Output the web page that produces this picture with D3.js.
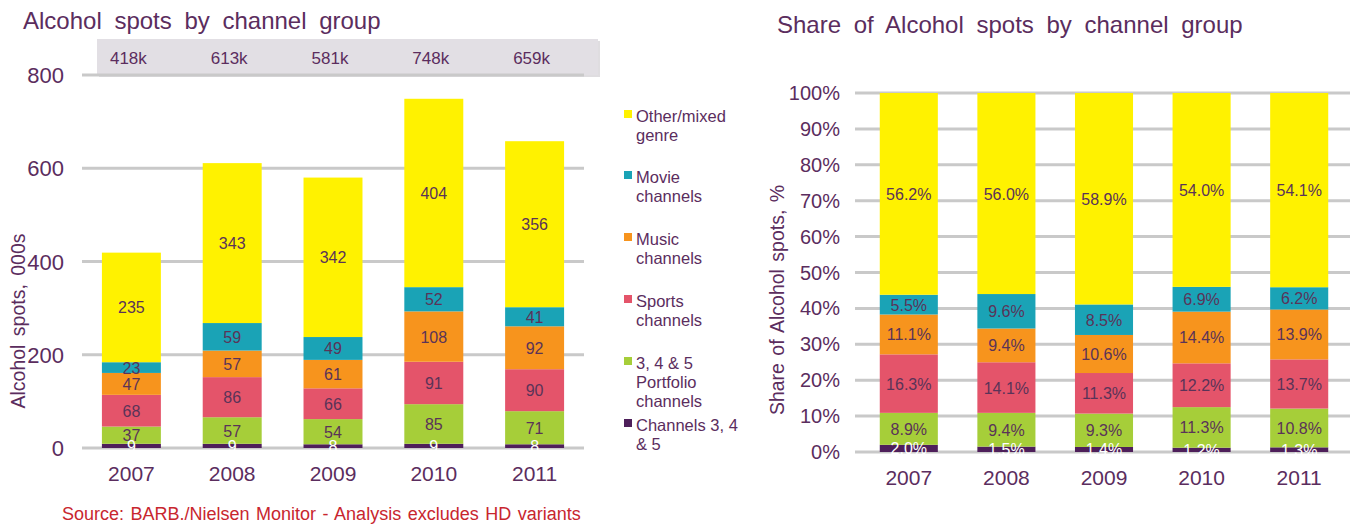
<!DOCTYPE html>
<html><head><meta charset="utf-8">
<script src="https://cdn.jsdelivr.net/npm/d3@7"></script>
<style>body{margin:0;background:#fff}svg{display:block;font-family:"Liberation Sans",Arial,sans-serif}</style>
</head><body><svg id="c" width="1355" height="525"></svg>
<script>
const years = ["2007","2008","2009","2010","2011"];
const seriesNames = ["Channels 3, 4 & 5","3, 4 & 5 Portfolio channels","Sports channels","Music channels","Movie channels","Other/mixed genre"];
const seriesColors = ["#4E1F5A","#A6CE39","#E4546A","#F7941D","#1AA3B6","#FFF200"];
const spotsCh345 = [9,9,8,9,8];
const spotsPortfolio = [37,57,54,85,71];
const spotsSports = [68,86,66,91,90];
const spotsMusic = [47,57,61,108,92];
const spotsMovie = [23,59,49,52,41];
const spotsOther = [235,343,342,404,356];
const totalLabels = ["418k","613k","581k","748k","659k"];
const shareCh345 = [2.0,1.5,1.4,1.2,1.3];
const sharePortfolio = [8.9,9.4,9.3,11.3,10.8];
const shareSports = [16.3,14.1,11.3,12.2,13.7];
const shareMusic = [11.1,9.4,10.6,14.4,13.9];
const shareMovie = [5.5,9.6,8.5,6.9,6.2];
const shareOther = [56.2,56.0,58.9,54.0,54.1];
const leftTicks = [0,200,400,600,800];
const rightTicks = [0,10,20,30,40,50,60,70,80,90,100];
const legendLines = [["Other/mixed","genre"],["Movie","channels"],["Music","channels"],["Sports","channels"],["3, 4 & 5","Portfolio","channels"],["Channels 3, 4","& 5"]];
const legendColors = ["#FFF200","#1AA3B6","#F7941D","#E4546A","#A6CE39","#4E1F5A"];

const txt = "#5B2D5E", grid = "#C9C9C9";
const svg = d3.select("#c");

function buildRows(arrs){
  return years.map((y,i)=>{const r={year:y}; arrs.forEach((a,k)=>r["s"+k]=a[i]); return r;});
}
const keys = seriesNames.map((d,k)=>"s"+k);

// ---------- LEFT CHART ----------
const spotsRows = buildRows([spotsCh345,spotsPortfolio,spotsSports,spotsMusic,spotsMovie,spotsOther]);
const xL = d3.scaleBand().domain(years).range([81,585]).paddingInner(0.415).paddingOuter(0.2075);
const yL = d3.scaleLinear().domain([0,800]).range([448,75]);
const L = svg.append("g");
L.append("text").attr("x",23).attr("y",29).attr("font-size",24).attr("fill",txt).attr("word-spacing",6).text("Alcohol spots by channel group");
// header box
L.append("rect").attr("x",99).attr("y",41).attr("width",501).attr("height",36).attr("fill","#C9C6CC").attr("opacity",0.6);
L.append("rect").attr("x",97).attr("y",39).attr("width",501).attr("height",36).attr("fill","#E2DFE4");
L.selectAll(".tl").data(totalLabels).join("text").attr("x",(d,i)=>xL(years[i])+xL.bandwidth()/2-3).attr("y",64)
  .attr("text-anchor","middle").attr("font-size",17).attr("fill",txt).text(d=>d);
// grid
L.selectAll(".g").data(leftTicks).join("line").attr("x1",82).attr("x2",584).attr("y1",d=>yL(d)).attr("y2",d=>yL(d)).attr("stroke",grid).attr("stroke-width",3);
L.selectAll(".yt").data(leftTicks).join("text").attr("x",64).attr("y",d=>yL(d)+8).attr("text-anchor","end").attr("font-size",22).attr("fill",txt).text(d=>d);
const stL = d3.stack().keys(keys)(spotsRows);
stL.forEach((s,k)=>{
  const g = L.append("g");
  g.selectAll("rect").data(s).join("rect").attr("x",d=>xL(d.data.year)).attr("width",xL.bandwidth())
    .attr("y",d=>yL(d[1])).attr("height",d=>yL(d[0])-yL(d[1])).attr("fill",seriesColors[k]);
});
stL.forEach((s,k)=>{
  L.append("g").selectAll("text").data(s).join("text").attr("x",d=>xL(d.data.year)+xL.bandwidth()/2)
    .attr("y",d=>yL((d[0]+d[1])/2)+6).attr("text-anchor","middle").attr("font-size",16)
    .attr("fill",k===0?"#FFFFFF":"#5A3358").text(d=>d[1]-d[0]);
});
L.selectAll(".xt").data(years).join("text").attr("x",d=>xL(d)+xL.bandwidth()/2).attr("y",481).attr("text-anchor","middle").attr("font-size",21).attr("fill",txt).text(d=>d);
L.append("text").attr("transform","translate(25,321) rotate(-90)").attr("text-anchor","middle").attr("font-size",19.5).attr("fill",txt).attr("word-spacing",3).text("Alcohol spots, 000s");
L.append("text").attr("x",62).attr("y",520).attr("font-size",18).attr("fill","#C8262E").attr("word-spacing",1.5).text("Source: BARB./Nielsen Monitor - Analysis excludes HD variants");

// legend
const lg = svg.append("g");
const lgY = [122,183,245,307,369,431];
legendLines.forEach((lines,i)=>{
  lg.append("rect").attr("x",624).attr("y",lgY[i]-12).attr("width",8).attr("height",8).attr("fill",legendColors[i]);
  lines.forEach((t,j)=>lg.append("text").attr("x",636).attr("y",lgY[i]+j*19).attr("font-size",16.5).attr("fill",txt).text(t));
});

// ---------- RIGHT CHART ----------
const shareRows = buildRows([shareCh345,sharePortfolio,shareSports,shareMusic,shareMovie,shareOther]);
const xR = d3.scaleBand().domain(years).range([860,1348]).paddingInner(0.405).paddingOuter(0.2025);
const yR = d3.scaleLinear().domain([0,100]).range([452,93]);
const R = svg.append("g");
R.append("text").attr("x",777).attr("y",33).attr("font-size",24).attr("fill",txt).attr("word-spacing",6).text("Share of Alcohol spots by channel group");
R.selectAll(".g").data(rightTicks).join("line").attr("x1",855).attr("x2",1350).attr("y1",d=>yR(d)).attr("y2",d=>yR(d)).attr("stroke",grid).attr("stroke-width",3);
R.selectAll(".yt").data(rightTicks).join("text").attr("x",840).attr("y",d=>yR(d)+7).attr("text-anchor","end").attr("font-size",20).attr("fill",txt).text(d=>d+"%");
const stR = d3.stack().keys(keys)(shareRows);
stR.forEach((s,k)=>{
  R.append("g").selectAll("rect").data(s).join("rect").attr("x",d=>xR(d.data.year)).attr("width",xR.bandwidth())
    .attr("y",d=>yR(d[1])).attr("height",d=>yR(d[0])-yR(d[1])).attr("fill",seriesColors[k]);
});
stR.forEach((s,k)=>{
  R.append("g").selectAll("text").data(s).join("text").attr("x",d=>xR(d.data.year)+xR.bandwidth()/2)
    .attr("y",d=>yR((d[0]+d[1])/2)+6).attr("text-anchor","middle").attr("font-size",16)
    .attr("fill",k===0?"#FFFFFF":"#5A3358").text(d=>(d[1]-d[0]).toFixed(1)+"%");
});
R.selectAll(".xt").data(years).join("text").attr("x",d=>xR(d)+xR.bandwidth()/2).attr("y",485).attr("text-anchor","middle").attr("font-size",21).attr("fill",txt).text(d=>d);
R.append("text").attr("transform","translate(784,300) rotate(-90)").attr("text-anchor","middle").attr("font-size",19.5).attr("fill",txt).attr("word-spacing",2).text("Share of Alcohol spots, %");
</script></body></html>
